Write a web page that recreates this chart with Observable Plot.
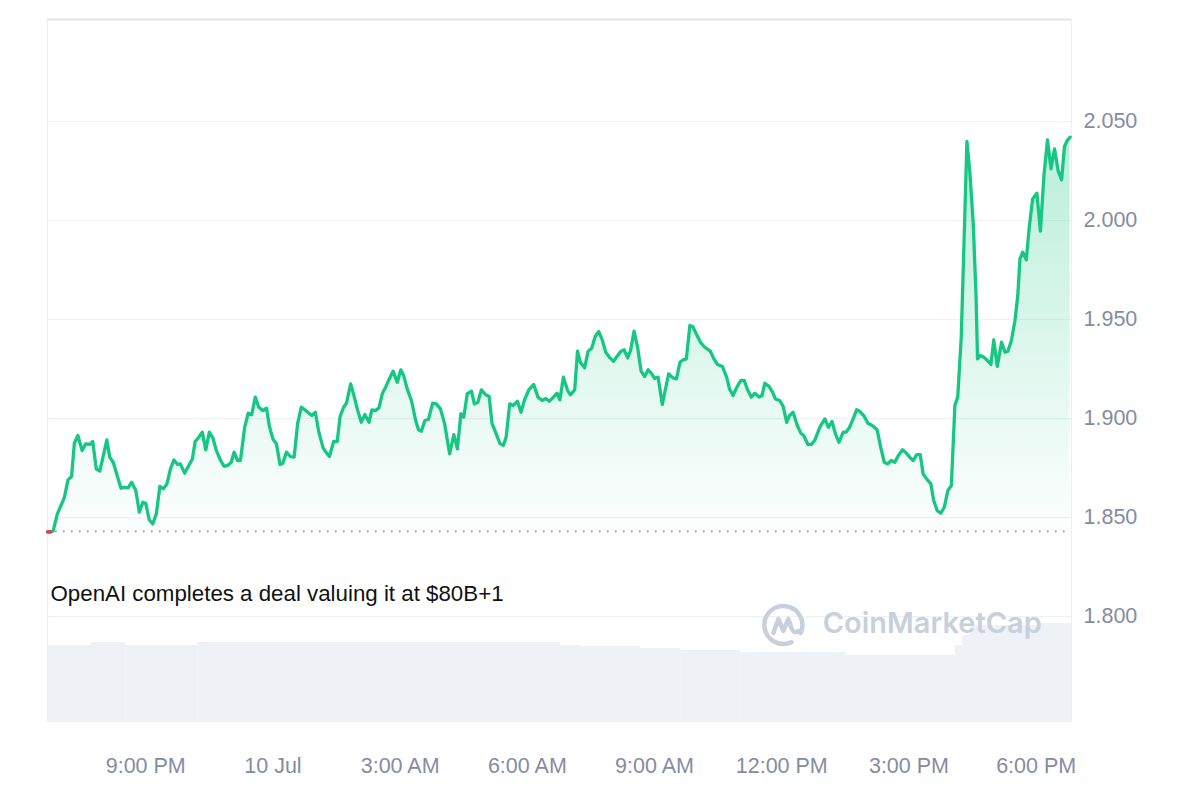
<!DOCTYPE html>
<html>
<head>
<meta charset="utf-8">
<script src="https://cdn.jsdelivr.net/npm/d3@7"></script>
<script src="https://cdn.jsdelivr.net/npm/@observablehq/plot@0.6"></script>
<style>
  body { margin: 0; background: #fff; }
  #chart { position: relative; width: 1200px; height: 800px; }
  #chart svg { position: absolute; left: 0; top: 0; background: transparent; }
</style>
</head>
<body>
<div id="chart"></div>
<script>
// ---------------- DATA ----------------
const startISO = "2024-07-09T18:40:00Z";      // minute offsets below count from this time (UTC)
const domainMinutes = [1, 1450];
const basePrice = 1.8430;                       // reference (open) price, dotted line

const minutes = [
  1,6,9,15,22,25,30,35,39,44,
  50,55,61,65,70,75,85,89,94,105,
  109,115,120,126,131,136,140,145,150,155,
  160,165,170,175,180,185,189,195,201,206,
  210,214,220,225,230,235,240,246,251,256,
  261,265,270,274,280,285,290,295,300,306,
  311,315,320,325,330,334,339,345,350,355,
  360,365,371,375,380,385,391,396,400,406,
  411,415,420,424,430,435,440,445,450,456,
  460,465,470,475,480,484,490,496,501,505,
  510,516,522,526,530,535,540,546,551,557,
  563,570,576,581,586,590,595,601,605,610,
  615,621,626,630,635,641,646,650,655,660,
  666,671,676,682,689,695,701,706,711,717,
  722,726,731,737,741,747,751,755,761,766,
  771,776,781,786,791,797,802,806,812,817,
  822,826,831,836,841,846,851,856,860,865,
  871,876,880,886,891,896,900,905,910,914,
  919,925,931,939,944,949,956,962,966,971,
  976,982,987,991,997,1002,1008,1012,1016,1022,
  1027,1031,1037,1042,1047,1051,1056,1062,1067,1071,
  1077,1082,1087,1093,1097,1101,1106,1111,1116,1121,
  1127,1131,1136,1141,1146,1150,1156,1162,1168,1175,
  1180,1185,1190,1195,1200,1205,1211,1215,1222,1226,
  1231,1236,1240,1245,1251,1255,1260,1265,1270,1275,
  1280,1285,1289,1294,1298,1302,1306,1311,1315,1317,
  1321,1326,1331,1336,1340,1345,1351,1356,1360,1365,
  1370,1374,1377,1381,1386,1390,1395,1401,1406,1411,
  1416,1421,1426,1431,1436,1440,1444,1448
];
const prices = [
  1.8428,1.8428,1.8433,1.8519,1.8577,1.8603,1.8690,1.8707,1.8875,1.8914,
  1.8838,1.8872,1.8869,1.8884,1.8746,1.8734,1.8892,1.8805,1.8779,1.8648,
  1.8653,1.8650,1.8678,1.8636,1.8527,1.8577,1.8572,1.8488,1.8468,1.8519,
  1.8657,1.8645,1.8670,1.8746,1.8791,1.8768,1.8771,1.8724,1.8763,1.8796,
  1.8885,1.8900,1.8931,1.8842,1.8931,1.8902,1.8838,1.8788,1.8758,1.8763,
  1.8779,1.8830,1.8788,1.8788,1.8956,1.9027,1.9019,1.9108,1.9057,1.9040,
  1.9052,1.8960,1.8897,1.8872,1.8768,1.8774,1.8830,1.8808,1.8805,1.8976,
  1.9057,1.9045,1.9027,1.9015,1.9032,1.8931,1.8852,1.8825,1.8808,1.8885,
  1.8884,1.9010,1.9057,1.9077,1.9175,1.9111,1.9040,1.8981,1.9020,1.8981,
  1.9044,1.9040,1.9054,1.9128,1.9162,1.9195,1.9239,1.9183,1.9246,1.9217,
  1.9150,1.9091,1.8990,1.8943,1.8936,1.8990,1.8995,1.9077,1.9074,1.9049,
  1.8973,1.8822,1.8919,1.8847,1.9024,1.9007,1.9125,1.9138,1.9074,1.9082,
  1.9145,1.9120,1.9111,1.8976,1.8931,1.8875,1.8864,1.8906,1.9074,1.9066,
  1.9087,1.9032,1.9094,1.9145,1.9172,1.9108,1.9091,1.9101,1.9087,1.9108,
  1.9128,1.9094,1.9209,1.9141,1.9120,1.9145,1.9340,1.9284,1.9256,1.9340,
  1.9355,1.9414,1.9439,1.9397,1.9335,1.9306,1.9289,1.9310,1.9338,1.9347,
  1.9306,1.9343,1.9441,1.9360,1.9239,1.9212,1.9246,1.9226,1.9203,1.9209,
  1.9071,1.9158,1.9226,1.9205,1.9200,1.9284,1.9296,1.9301,1.9470,1.9465,
  1.9428,1.9385,1.9360,1.9340,1.9301,1.9273,1.9263,1.9209,1.9150,1.9116,
  1.9155,1.9192,1.9192,1.9150,1.9108,1.9128,1.9108,1.9116,1.9178,1.9162,
  1.9133,1.9099,1.9091,1.9061,1.8981,1.9015,1.9032,1.8965,1.8926,1.8914,
  1.8869,1.8869,1.8892,1.8948,1.8976,1.8998,1.8956,1.8985,1.8923,1.8880,
  1.8931,1.8931,1.8956,1.8998,1.9044,1.9037,1.9015,1.8976,1.8965,1.8943,
  1.8855,1.8779,1.8771,1.8788,1.8779,1.8813,1.8842,1.8830,1.8801,1.8788,
  1.8818,1.8818,1.8721,1.8695,1.8670,1.8586,1.8535,1.8522,1.8552,1.8636,
  1.8662,1.9066,1.9108,1.9411,1.9899,2.0400,2.0252,1.9983,1.9613,1.9301,
  1.9318,1.9310,1.9293,1.9273,1.9397,1.9263,1.9385,1.9335,1.9340,1.9394,
  1.9495,1.9621,1.9806,1.9840,1.9801,1.9958,2.0109,2.0138,1.9946,2.0227,
  2.0407,2.0261,2.0362,2.0252,2.0205,2.0374,2.0404,2.0421
];

// volume (24h rolling, $M) as bars between edges (minute offsets)
const volumeEdges  = [1,62,112,214,727,755,840,897,982,1130,1286,1296,1307,1406,1450];
const volumeValues = [77,80,77,80,77,76,74,72,70,67,77,87,97,99];

const yDomain = [1.7465, 2.1015];
const yTicks = [1.80, 1.85, 1.90, 1.95, 2.00, 2.05];
const xTickMinutes = [140, 320, 500, 680, 860, 1040, 1220, 1400];
const xTickLabels = ["9:00 PM", "10 Jul", "3:00 AM", "6:00 AM", "9:00 AM", "12:00 PM", "3:00 PM", "6:00 PM"];

const annotationText = "OpenAI completes a deal valuing it at $80B+1";
const annotationPos = {minute: 1, price: 1.8116};
const watermarkText = "CoinMarketCap";
const watermarkPos = {minute: 1098, price: 1.7962};
const logoPos = {minute: 1043, price: 1.7955};

// ---------------- BUILD ----------------
const t0 = Date.parse(startISO);
const T = m => new Date(t0 + m * 60000);
const xDomain = domainMinutes.map(T);
const data = minutes.map((m, i) => ({time: T(m), price: prices[i]}));
const below = data.filter(d => d.price < basePrice);
const volData = volumeValues.map((v, i) => ({start: T(volumeEdges[i]), end: T(volumeEdges[i + 1]), v}));
const tickTimes = xTickMinutes.map(T);
const labelMap = new Map(tickTimes.map((t, i) => [+t, xTickLabels[i]]));

const W = 1200, H = 800;
const M = {marginLeft: 47, marginRight: 129, marginTop: 19, marginBottom: 78};
const green = "#16c784", red = "#ea3943";

const volPlot = Plot.plot({
  width: W, height: H, ...M,
  x: {type: "utc", domain: xDomain, axis: null},
  y: {domain: [0, 703], axis: null},
  marks: [
    Plot.rect(volData, {x1: "start", x2: "end", y1: () => 0, y2: "v", fill: "#eef1f5"})
  ]
});

const gradientDefs = () => {
  const defs = d3.create("svg:defs");
  const g = defs.append("linearGradient").attr("id", "areaGrad")
    .attr("x1", 0).attr("x2", 0).attr("y1", 0).attr("y2", 1);
  g.append("stop").attr("offset", "0%").attr("stop-color", green).attr("stop-opacity", 0.3);
  g.append("stop").attr("offset", "100%").attr("stop-color", green).attr("stop-opacity", 0.01);
  return defs.node();
};

const logoMark = (index, scales) => {
  const cx = scales.x(T(logoPos.minute)), cy = scales.y(logoPos.price);
  const g = d3.create("svg:g").attr("transform", `translate(${cx},${cy})`)
    .attr("fill", "none").attr("stroke", "#c9cfdb").attr("stroke-width", 4.5)
    .attr("stroke-linecap", "round").attr("stroke-linejoin", "round");
  const r = 19;
  const a1 = 25 * Math.PI / 180, a2 = 65 * Math.PI / 180;
  g.append("path").attr("d",
    `M${r * Math.cos(a1)},${r * Math.sin(a1)} A${r},${r} 0 1 0 ${r * Math.cos(a2)},${r * Math.sin(a2)}`);
  g.append("path").attr("d", "M-10,8 L-5,-6 L0,6 L5,-6 L8,3 Q10,9 15,6");
  return g.node();
};

const mainPlot = Plot.plot({
  width: W, height: H, ...M,
  style: {fontFamily: "'Liberation Sans', Arial, sans-serif", fontSize: "21.5px", color: "#858ca2", background: "transparent", overflow: "visible"},
  x: {type: "utc", domain: xDomain, ticks: tickTimes, tickFormat: d => labelMap.get(+d) ?? "", tickSize: 0, tickPadding: 35, label: null},
  y: {domain: yDomain, axis: "right", ticks: yTicks, tickFormat: d3.format(".3f"), tickSize: 0, tickPadding: 12, label: null},
  marks: [
    gradientDefs,
    Plot.ruleY(yTicks, {stroke: "#eff2f5", strokeWidth: 1.2}),
    Plot.ruleX(xDomain, {stroke: "#eceff2", strokeWidth: 1.2}),
    Plot.ruleY([yDomain[1]], {stroke: "#e2e4e7", strokeWidth: 2}),
    Plot.area(data, {x1: "time", y1: () => basePrice, y2: "price", fill: "url(#areaGrad)"}),
    Plot.ruleY([basePrice], {stroke: "#8f939b", strokeWidth: 1.6, strokeDasharray: "1.6,6.4"}),
    Plot.line(data, {x: "time", y: "price", stroke: green, strokeWidth: 3.3, curve: "linear"}),
    Plot.line(below, {x: "time", y: "price", stroke: red, strokeWidth: 3.3}),
    Plot.text([annotationText], {x: () => T(annotationPos.minute), y: () => annotationPos.price, text: d => d,
      textAnchor: "start", dx: 3, fill: "#111", fontSize: 22.3}),
    logoMark,
    Plot.text([watermarkText], {x: () => T(watermarkPos.minute), y: () => watermarkPos.price, text: d => d,
      textAnchor: "start", fill: "#c9cfdb", fontSize: 29, fontWeight: 600, fontFamily: "Inter, 'Open Sans', sans-serif"})
  ]
});

const chart = document.getElementById("chart");
chart.appendChild(volPlot);
chart.appendChild(mainPlot);
</script>
</body>
</html>
